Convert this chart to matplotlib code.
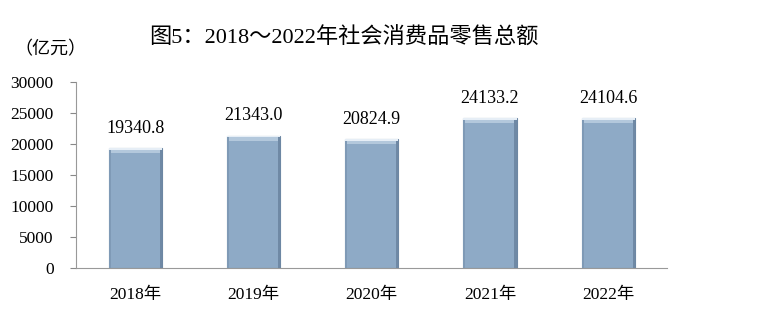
import matplotlib
matplotlib.use("Agg")
import matplotlib.pyplot as plt
import numpy as np

categories = ["2018年", "2019年", "2020年", "2021年", "2022年"]
values = [19340.8, 21343.0, 20824.9, 24133.2, 24104.6]
labels = ["19340.8", "21343.0", "20824.9", "24133.2", "24104.6"]
yticks = [0, 5000, 10000, 15000, 20000, 25000, 30000]

plt.rcParams['font.family'] = ['Liberation Serif', 'Noto Sans CJK SC', 'DejaVu Sans']

fig = plt.figure(figsize=(7.7, 3.21), dpi=100)
ax = fig.add_axes([0.0987, 0.165, 0.768, 0.58])

x = np.arange(len(categories))
w = 0.45
ax.bar(x, values, width=w, color="#8eaac6", edgecolor="#6d87a3", linewidth=0.8, zorder=2)
# bevel highlights (derived from data)
top_h = 800
ax.bar(x, [top_h] * len(values), bottom=[v - top_h for v in values], width=w * 0.96,
       color="#b3c8dc", edgecolor="none", zorder=3)
ax.bar(x, [top_h * 0.35] * len(values), bottom=[v - top_h * 0.35 for v in values], width=w,
       color="#e6eef6", edgecolor="none", zorder=4)
ax.bar(x - w / 2 + w * 0.02, values, width=w * 0.04, color="#7f9ab6", edgecolor="none", zorder=3)
ax.bar(x + w / 2 - w * 0.02, values, width=w * 0.04, color="#6f89a5", edgecolor="none", zorder=3)

for xi, v, lab in zip(x, values, labels):
    ax.text(xi, v + 1800, lab, ha="center", va="bottom", fontsize=13, color="black")

ax.set_xlim(-0.5, len(categories) - 0.5)
ax.set_ylim(0, 30000)
ax.set_yticks(yticks)
ax.set_yticklabels([str(t) for t in yticks], fontsize=12.5)
ax.set_xticks(x)
ax.set_xticklabels(categories, fontsize=12.5)
ax.tick_params(axis="x", length=0, pad=14)
ax.tick_params(axis="y", length=4, width=0.8, color="#888888", pad=12)

for s in ["top", "right"]:
    ax.spines[s].set_visible(False)
ax.spines["left"].set_color("#999999")
ax.spines["bottom"].set_color("#999999")
ax.spines["left"].set_linewidth(0.8)
ax.spines["bottom"].set_linewidth(0.8)

fig.text(0.446, 0.88, "图5：2018～2022年社会消费品零售总额", ha="center", va="center",
         fontsize=16, fontweight=500)
fig.text(0.065, 0.845, "（亿元）", ha="center", va="center", fontsize=13)

fig.savefig("out.png", dpi=100)
